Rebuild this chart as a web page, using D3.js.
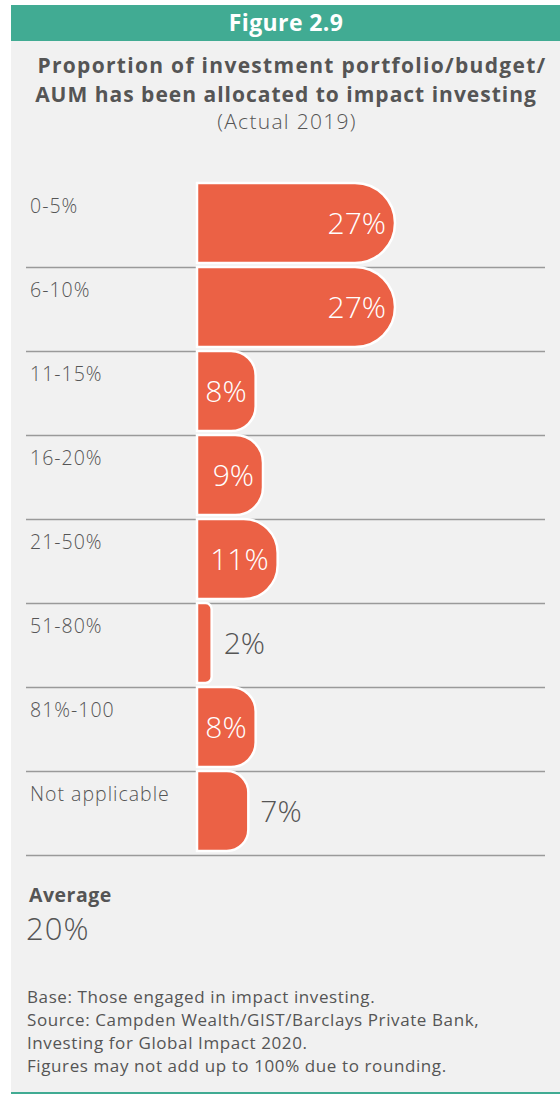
<!DOCTYPE html>
<html>
<head>
<meta charset="utf-8">
<script src="https://cdn.jsdelivr.net/npm/d3@7"></script>
<style>
  html, body { margin: 0; padding: 0; background: #ffffff; }
  svg { display: block; }
</style>
</head>
<body>
<div id="chart"></div>
<script>
// Allocation bands and the share of respondents in each
const categories = ["0-5%", "6-10%", "11-15%", "16-20%", "21-50%", "51-80%", "81%-100", "Not applicable"];
const values = [27, 27, 8, 9, 11, 2, 8, 7];

const figureLabel = "Figure 2.9";
const titleLines = [
  "Proportion of investment portfolio/budget/",
  "AUM has been allocated to impact investing"
];
const subtitle = "(Actual 2019)";
const averageLabel = "Average";
const averageValue = "20%";
const notes = [
  "Base: Those engaged in impact investing.",
  "Source: Campden Wealth/GIST/Barclays Private Bank,",
  "Investing for Global Impact 2020.",
  "Figures may not add up to 100% due to rounding."
];

const W = 560, H = 1094;
const green = "#41ab93", panel = "#f1f1f1", barColor = "#eb6145", ink = "#555555";
const font = "'Open Sans', Lato, sans-serif";

const svg = d3.select("#chart").append("svg")
  .attr("width", W).attr("height", H);

// panel and header band
svg.append("rect").attr("x", 11).attr("y", 5).attr("width", W - 11).attr("height", H - 5).attr("fill", panel);
svg.append("rect").attr("x", 11).attr("y", 5).attr("width", W - 11).attr("height", 36).attr("fill", green);
svg.append("rect").attr("x", 11).attr("y", H - 2).attr("width", W - 11).attr("height", 2).attr("fill", green);

svg.append("text").attr("x", 286).attr("y", 31)
  .attr("text-anchor", "middle").attr("fill", "#fff")
  .attr("font-family", font).attr("font-weight", 700).attr("font-size", 23)
  .attr("letter-spacing", 0.4)
  .text(figureLabel);

svg.selectAll("text.title").data(titleLines).join("text")
  .attr("class", "title")
  .attr("x", (d, i) => i === 0 ? 292 : 286).attr("y", (d, i) => 73 + i * 29)
  .attr("text-anchor", "middle").attr("fill", ink)
  .attr("font-family", font).attr("font-weight", 700).attr("font-size", 21)
  .attr("letter-spacing", (d, i) => i === 0 ? 1.3 : 1.0)
  .text(d => d);

svg.append("text").attr("x", 287).attr("y", 129)
  .attr("text-anchor", "middle").attr("fill", ink)
  .attr("font-family", font).attr("font-weight", 300).attr("font-size", 21)
  .attr("letter-spacing", 1.3)
  .text(subtitle);

// scales
const rowH = 84;
const y = d3.scaleBand().domain(categories).range([183, 183 + rowH * categories.length]).padding(0);
const x = d3.scaleLinear().domain([0, 27]).range([197, 395]);

const rows = categories.map((c, i) => ({ cat: c, val: values[i] }));
const barH = 80;

// gridlines under each row
svg.selectAll("line.grid").data(rows).join("line")
  .attr("class", "grid")
  .attr("x1", 26).attr("x2", 545)
  .attr("y1", d => y(d.cat) + rowH + 0.5).attr("y2", d => y(d.cat) + rowH + 0.5)
  .attr("stroke", "#9a9a9a").attr("stroke-width", 1.5);

// category labels
svg.selectAll("text.cat").data(rows).join("text")
  .attr("class", "cat")
  .attr("x", 30).attr("y", d => y(d.cat) + 30)
  .attr("fill", ink).attr("font-family", font).attr("font-weight", 300).attr("font-size", 19.5)
  .attr("letter-spacing", 1)
  .text(d => d.cat);

// bar with square left edge and rounded right end
function barPath(d) {
  const x0 = x(0), x1 = x(d.val), y0 = y(d.cat), y1 = y0 + barH;
  const w = x1 - x0;
  const r = Math.min(barH / 2, w * 0.42);
  return `M${x0},${y0}H${x1 - r}A${r},${r} 0 0 1 ${x1},${y0 + r}V${y1 - r}A${r},${r} 0 0 1 ${x1 - r},${y1}H${x0}Z`;
}

svg.selectAll("path.bar").data(rows).join("path")
  .attr("class", "bar")
  .attr("d", barPath)
  .attr("fill", barColor).attr("stroke", "#ffffff").attr("stroke-width", 2.5);

// value labels: inside for wide bars, outside for narrow ones
const inside = d => (x(d.val) - x(0)) > 52;
svg.selectAll("text.val").data(rows).join("text")
  .attr("class", "val")
  .attr("x", d => inside(d) ? x(d.val) - 9 : x(d.val) + 12)
  .attr("y", d => y(d.cat) + barH / 2 + 11)
  .attr("text-anchor", d => inside(d) ? "end" : "start")
  .attr("fill", d => inside(d) ? "#ffffff" : ink)
  .attr("font-family", font).attr("font-weight", 300).attr("font-size", 30)
  .text(d => d.val + "%");

// average
svg.append("text").attr("x", 29).attr("y", 902)
  .attr("fill", ink).attr("font-family", font).attr("font-weight", 700).attr("font-size", 19.5)
  .attr("letter-spacing", 0.5)
  .text(averageLabel);
svg.append("text").attr("x", 26).attr("y", 940)
  .attr("fill", ink).attr("font-family", font).attr("font-weight", 300).attr("font-size", 31)
  .attr("letter-spacing", 1)
  .text(averageValue);

// notes
svg.selectAll("text.note").data(notes).join("text")
  .attr("class", "note")
  .attr("x", 27).attr("y", (d, i) => 1003 + i * 23)
  .attr("fill", ink).attr("font-family", font).attr("font-weight", 400).attr("font-size", 17)
  .attr("letter-spacing", 0.6)
  .text(d => d);
</script>
</body>
</html>
